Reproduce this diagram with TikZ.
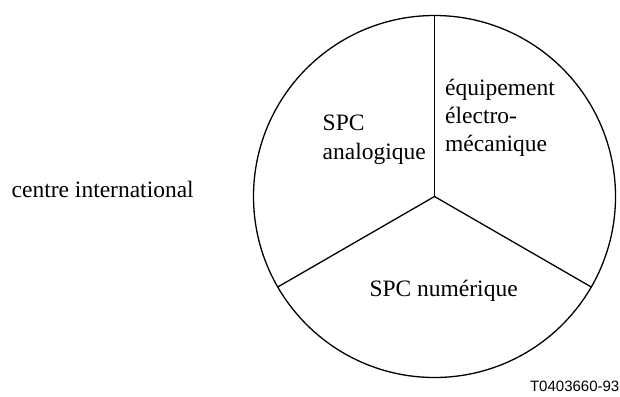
\documentclass[tikz,border=0pt]{standalone}
\usepackage{fontspec}
\setmainfont{Liberation Serif}
\newfontfamily\labelsans{Liberation Sans}
\tikzset{
  txt/.style={anchor=base west, inner sep=0pt, font=\fontsize{23.5}{28}\selectfont},
  pieline/.style={line width=1.3pt},
  code/.style={anchor=base east, inner sep=0pt, font=\labelsans\fontsize{15}{18}\selectfont}
}
\begin{document}
\begin{tikzpicture}[x=1pt,y=1pt]
\useasboundingbox (0,0) rectangle (620,-396);
\node[circle, draw, pieline, minimum size=362pt, inner sep=0pt, outer sep=0pt] (pie) at (434.5,-196.5) {};
\draw[line width=1.8pt] (pie.center) -- (pie.90);
\draw[pieline] (pie.center) -- (pie.210);
\draw[pieline] (pie.center) -- (pie.330);
\node[txt] (ci) at (11.5,-197.5) {centre international};
\node[txt] (a1) at (322.5,-130.7) {SPC};
\node[txt] (a2) at (322.5,-159.3) {analogique};
\node[txt] (e1) at (445,-95) {équipement};
\node[txt] (e2) at (445,-123.5) {électro-};
\node[txt] (e3) at (445,-151.7) {mécanique};
\node[txt] (n1) at (369.3,-296.7) {SPC numérique};
\node[code] (t) at (619.5,-391.5) {T0403660-93};
\end{tikzpicture}
\end{document}
